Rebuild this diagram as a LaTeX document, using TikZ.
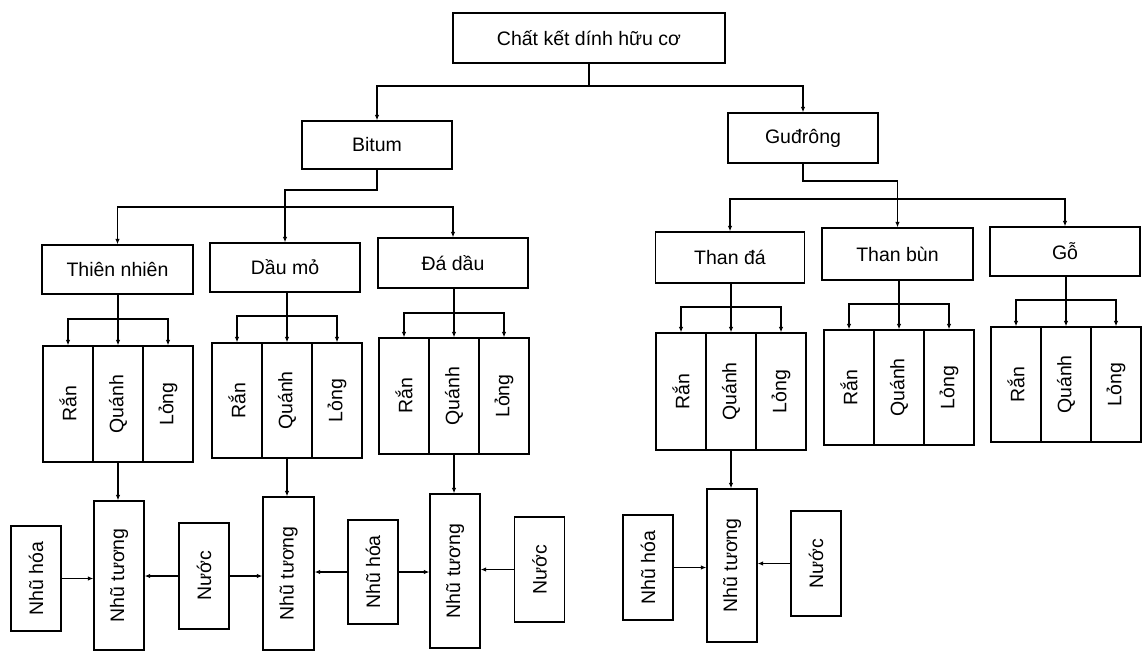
\documentclass[tikz,border=0pt]{standalone}
\usepackage{fontspec}
\setmainfont{Liberation Sans}
\usepackage{graphicx}
\usetikzlibrary{arrows.meta}
\begin{document}
\begin{tikzpicture}[x=1pt,y=-1pt,
  box/.style={draw, line width=1.3pt, rectangle, inner sep=0pt, font=\fontsize{19.5}{22}\selectfont},
  vbox/.style={box, minimum width=50pt},
  conn/.style={line width=1.2pt},
  arr/.style={conn, -{Latex[length=5.5pt,width=4.5pt]}},
]
\useasboundingbox (0,0) rectangle (1147,654);

% level 1 and 2
\node[box,minimum width=272pt,minimum height=50pt] (top) at (589,38) {Chất kết dính hữu cơ};
\node[box,minimum width=150pt,minimum height=48pt] (bitum) at (377,145) {Bitum};
\node[box,minimum width=150pt,minimum height=50pt] (gud) at (803,138) {Guđrông};
\coordinate (tj) at (589,86);
\draw[conn] (top.south) -- (tj);
\draw[arr] (tj) -| (bitum.north);
\draw[arr] (tj) -| (gud.north);

% level 3 (Bitum)
\node[box,minimum width=151pt,minimum height=49pt] (tn) at (117.5,269.5) {Thiên nhiên};
\node[box,minimum width=150pt,minimum height=49pt] (dm) at (285,267.5) {Dầu mỏ};
\node[box,minimum width=150pt,minimum height=50pt] (dd) at (453,263) {Đá dầu};
\coordinate (bj) at (377,190);
\coordinate (bf) at (285,207);
\draw[conn] (bitum.south) -- (bj) -| (bf);
\draw[arr] (bf) -- (dm.north);
\draw[arr] (bf) -| (tn.north);
\draw[arr] (bf) -| (dd.north);

% level 3 (Gudrong)
\node[box,minimum width=149pt,minimum height=51pt] (td) at (730,257.5) {Than đá};
\node[box,minimum width=151pt,minimum height=52pt] (tb) at (897.5,254) {Than bùn};
\node[box,minimum width=150pt,minimum height=49pt] (go) at (1065,251.5) {Gỗ};
\coordinate (gj) at (803,181);
\coordinate (gf) at (897.5,199);
\draw[conn] (gud.south) -- (gj) -| (gf);
\draw[arr] (gf) -- (tb.north);
\draw[arr] (gf) -| (td.north);
\draw[arr] (gf) -| (go.north);

% group 1
\node[vbox,minimum height=116pt] (r1) at (68,404) {\rotatebox{90}{Rắn}};
\node[vbox,minimum height=116pt] (q1) at (118,404) {\rotatebox{90}{Quánh}};
\node[vbox,minimum height=116pt] (l1) at (168,404) {\rotatebox{90}{Lỏng}};
\coordinate (f1) at (118,319);
\draw[arr] (tn.south -| q1.north) -- (q1.north);
\draw[arr] (f1) -| (r1.north);
\draw[arr] (f1) -| (l1.north);

% group 2
\node[vbox,minimum height=115pt] (r2) at (237,400.5) {\rotatebox{90}{Rắn}};
\node[vbox,minimum height=115pt] (q2) at (287,400.5) {\rotatebox{90}{Quánh}};
\node[vbox,minimum height=115pt] (l2) at (337,400.5) {\rotatebox{90}{Lỏng}};
\coordinate (f2) at (287,316);
\draw[arr] (dm.south -| q2.north) -- (q2.north);
\draw[arr] (f2) -| (r2.north);
\draw[arr] (f2) -| (l2.north);

% group 3
\node[vbox,minimum height=116pt] (r3) at (404,396) {\rotatebox{90}{Rắn}};
\node[vbox,minimum height=116pt] (q3) at (454,396) {\rotatebox{90}{Quánh}};
\node[vbox,minimum height=116pt] (l3) at (504,396) {\rotatebox{90}{Lỏng}};
\coordinate (f3) at (454,313);
\draw[arr] (dd.south -| q3.north) -- (q3.north);
\draw[arr] (f3) -| (r3.north);
\draw[arr] (f3) -| (l3.north);

% group 4
\node[vbox,minimum height=117pt] (r4) at (681,391.5) {\rotatebox{90}{Rắn}};
\node[vbox,minimum height=117pt] (q4) at (731,391.5) {\rotatebox{90}{Quánh}};
\node[vbox,minimum height=117pt] (l4) at (781,391.5) {\rotatebox{90}{Lỏng}};
\coordinate (f4) at (731,307);
\draw[arr] (td.south -| q4.north) -- (q4.north);
\draw[arr] (f4) -| (r4.north);
\draw[arr] (f4) -| (l4.north);

% group 5
\node[vbox,minimum height=115pt] (r5) at (849,387.5) {\rotatebox{90}{Rắn}};
\node[vbox,minimum height=115pt] (q5) at (899,387.5) {\rotatebox{90}{Quánh}};
\node[vbox,minimum height=115pt] (l5) at (949,387.5) {\rotatebox{90}{Lỏng}};
\coordinate (f5) at (899,304);
\draw[arr] (tb.south -| q5.north) -- (q5.north);
\draw[arr] (f5) -| (r5.north);
\draw[arr] (f5) -| (l5.north);

% group 6
\node[vbox,minimum height=115pt] (r6) at (1016,384.5) {\rotatebox{90}{Rắn}};
\node[vbox,minimum height=115pt] (q6) at (1066,384.5) {\rotatebox{90}{Quánh}};
\node[vbox,minimum height=115pt] (l6) at (1116,384.5) {\rotatebox{90}{Lỏng}};
\coordinate (f6) at (1066,300);
\draw[arr] (go.south -| q6.north) -- (q6.north);
\draw[arr] (f6) -| (r6.north);
\draw[arr] (f6) -| (l6.north);

% emulsion row
\node[vbox,minimum height=149pt] (nt1) at (119,575.5) {\rotatebox{90}{Nhũ tương}};
\node[vbox,minimum height=105pt] (nh1) at (36,578.5) {\rotatebox{90}{Nhũ hóa}};
\node[vbox,minimum height=106pt] (nu1) at (204,576) {\rotatebox{90}{Nước}};
\node[vbox,minimum width=51pt,minimum height=153pt] (nt2) at (288.5,573.5) {\rotatebox{90}{Nhũ tương}};
\node[vbox,minimum height=104pt] (nh2) at (373,572) {\rotatebox{90}{Nhũ hóa}};
\node[vbox,minimum height=154pt] (nt3) at (455,571) {\rotatebox{90}{Nhũ tương}};
\node[vbox,minimum height=105pt] (nu3) at (539.5,569.5) {\rotatebox{90}{Nước}};
\node[vbox,minimum height=153pt] (nt4) at (732,565.5) {\rotatebox{90}{Nhũ tương}};
\node[vbox,minimum height=105pt] (nh4) at (648,567.5) {\rotatebox{90}{Nhũ hóa}};
\node[vbox,minimum height=105pt] (nu4) at (816,563.5) {\rotatebox{90}{Nước}};

\draw[arr] (q1.south) -- (q1.south |- nt1.north);
\draw[arr] (q2.south) -- (q2.south |- nt2.north);
\draw[arr] (q3.south) -- (q3.south |- nt3.north);
\draw[arr] (q4.south) -- (q4.south |- nt4.north);

\draw[arr] (nh1.east) -- (nh1.east -| nt1.west);
\draw[arr] (nu1.west) -- (nu1.west -| nt1.east);
\draw[arr] (nu1.east) -- (nu1.east -| nt2.west);
\draw[arr] (nh2.west) -- (nh2.west -| nt2.east);
\draw[arr] (nh2.east) -- (nh2.east -| nt3.west);
\draw[arr] (nu3.west) -- (nu3.west -| nt3.east);
\draw[arr] (nh4.east) -- (nh4.east -| nt4.west);
\draw[arr] (nu4.west) -- (nu4.west -| nt4.east);
\end{tikzpicture}
\end{document}
